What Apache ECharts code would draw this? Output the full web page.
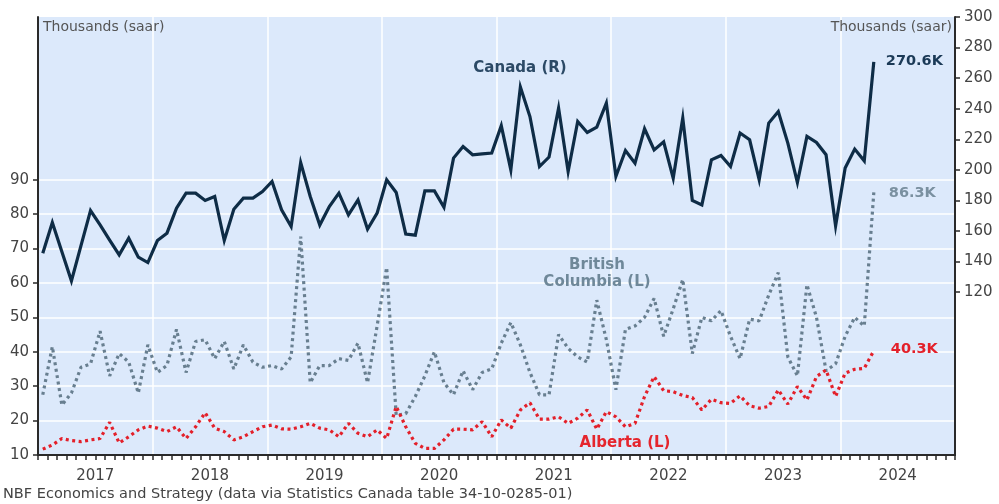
<!DOCTYPE html>
<html>
<head>
<meta charset="utf-8">
<script src="https://cdn.jsdelivr.net/npm/echarts@6/dist/echarts.min.js"></script>
<style>
  html, body { margin: 0; padding: 0; background: #ffffff; }
  #chart { width: 999px; height: 504px; }
</style>
</head>
<body>
<div id="chart"></div>
<script>
// Housing starts, thousands (saar): Canada on the right scale, provinces on the left
const yearLabels = ['2017', '2018', '2019', '2020', '2021', '2022', '2023', '2024'];

const canada = [
  145.5, 165.6, 146.5, 127.4, 150.5, 173.4, 164.0, 154.0, 144.4, 155.3, 142.9, 139.4,
  153.8, 158.6, 175.0, 184.8, 184.8, 180.0, 182.6, 153.8, 174.3, 181.5, 181.5, 185.8,
  192.4, 173.9, 163.0, 204.8, 182.6, 163.9, 176.0, 184.8, 170.6, 180.4, 161.2, 171.7,
  193.5, 185.2, 158.0, 157.3, 186.3, 186.3, 175.6, 207.7, 215.3, 209.9, 210.5, 211.0,
  228.9, 200.0, 254.2, 234.9, 202.2, 208.4, 240.4, 198.9, 231.7, 224.5, 228.0, 243.7,
  195.7, 212.7, 204.4, 226.9, 213.1, 218.4, 194.6, 233.9, 180.0, 177.1, 206.6, 209.4,
  202.2, 224.1, 219.7, 193.5, 230.6, 238.2, 217.5, 191.7, 221.9, 217.9, 209.9, 163.4,
  201.2, 213.6, 205.9, 270.6
];

const britishColumbia = [
  27.5, 41.5, 24.5, 28.0, 35.5, 36.5, 46.0, 33.0, 39.5, 37.0, 28.0, 42.0,
  34.0, 36.0, 46.5, 34.0, 43.0, 43.5, 38.0, 43.0, 35.0, 42.0, 37.0, 35.5,
  36.0, 35.0, 38.5, 73.5, 31.0, 36.0, 36.0, 38.0, 37.5, 42.5, 31.0, 47.5,
  64.5, 21.5, 22.0, 27.0, 33.0, 40.0, 31.0, 27.5, 34.5, 29.0, 34.0, 35.0,
  42.5, 48.5, 42.0, 34.0, 27.5, 27.5, 45.0, 41.0, 38.5, 37.0, 55.0, 43.5,
  29.0, 46.5, 47.5, 50.0, 55.5, 44.5, 52.5, 61.0, 39.5, 50.0, 49.0, 52.0,
  44.5, 38.0, 49.5, 49.0, 56.5, 63.0, 38.5, 33.0, 59.5, 50.0, 34.5, 36.5,
  44.5, 50.0, 47.5, 86.3
];

const alberta = [
  11.7, 12.9, 14.8, 14.2, 13.9, 14.4, 14.8, 19.5, 13.5, 15.3, 17.3, 18.4,
  17.8, 16.8, 18.2, 14.8, 18.2, 22.3, 17.8, 16.8, 14.4, 15.3, 16.8, 18.2,
  18.7, 17.6, 17.5, 18.2, 19.2, 17.8, 17.3, 15.3, 19.2, 16.3, 15.3, 17.3,
  14.8, 24.1, 18.2, 13.4, 11.9, 11.9, 14.4, 17.5, 17.5, 17.3, 19.7, 15.3,
  20.2, 17.8, 23.1, 25.2, 20.4, 20.4, 21.1, 19.2, 20.7, 23.1, 17.5, 22.6,
  21.1, 18.2, 19.2, 27.0, 32.8, 28.7, 28.4, 27.3, 26.7, 23.1, 26.2, 25.2,
  25.0, 27.2, 24.3, 23.6, 24.1, 28.9, 24.8, 29.9, 26.0, 32.8, 34.7, 27.0,
  33.8, 34.9, 35.2, 40.3
];

const leftTicks = [10, 20, 30, 40, 50, 60, 70, 80, 90];
const rightTicks = [120, 140, 160, 180, 200, 220, 240, 260, 280, 300];

// one category per month across the labelled years
const months = [];
yearLabels.forEach(function (y) {
  for (let m = 1; m <= 12; m++) months.push(y + '-' + String(m).padStart(2, '0'));
});

const FONT = 'DejaVu Sans';
const AXIS_COLOR = '#2a2a2a';
const TICK_TEXT = '#444444';

const kLabel = function (p) { return Number(p.value).toFixed(1) + 'K'; };

const dotted = [3, 3.5];

const chart = echarts.init(document.getElementById('chart'), null, { renderer: 'canvas' });

chart.setOption({
  animation: false,
  textStyle: { fontFamily: FONT },
  grid: {
    left: 38, right: 44, top: 17, bottom: 49,
    show: true, backgroundColor: '#dce9fb', borderWidth: 0
  },
  xAxis: [
    {
      type: 'category',
      data: months,
      boundaryGap: true,
      axisLine: { show: true, lineStyle: { color: AXIS_COLOR, width: 2 } },
      axisTick: { show: true, interval: 0, length: 5, lineStyle: { color: AXIS_COLOR, width: 1.5 } },
      axisLabel: { show: false },
      splitLine: { show: true, interval: 11, lineStyle: { color: '#ffffff', width: 1.5 } }
    },
    {
      type: 'category',
      data: yearLabels,
      position: 'bottom',
      boundaryGap: true,
      axisLine: { show: false },
      axisTick: { show: false },
      splitLine: { show: false },
      axisLabel: { show: true, fontSize: 15, color: TICK_TEXT, margin: 14, fontFamily: FONT }
    }
  ],
  yAxis: [
    {
      type: 'value',
      position: 'left',
      min: 10,
      max: 137.3,
      axisLine: { show: true, lineStyle: { color: AXIS_COLOR, width: 2 } },
      axisTick: { show: true, length: 5, customValues: leftTicks, lineStyle: { color: AXIS_COLOR, width: 1.5 } },
      axisLabel: { show: true, customValues: leftTicks, fontSize: 15, color: TICK_TEXT, margin: 9, fontFamily: FONT },
      splitLine: { show: true, lineStyle: { color: '#ffffff', width: 1.5 } }
    },
    {
      type: 'value',
      position: 'right',
      min: 13.5,
      max: 300,
      axisLine: { show: true, lineStyle: { color: AXIS_COLOR, width: 2 } },
      axisTick: { show: true, length: 5, customValues: rightTicks, lineStyle: { color: AXIS_COLOR, width: 1.5 } },
      axisLabel: { show: true, customValues: rightTicks, fontSize: 15, color: TICK_TEXT, margin: 9, fontFamily: FONT },
      splitLine: { show: false }
    }
  ],
  series: [
    {
      name: 'British Columbia (L)',
      type: 'line',
      xAxisIndex: 0, yAxisIndex: 0,
      data: britishColumbia,
      symbol: 'none',
      lineStyle: { color: '#687f90', width: 3.2, type: dotted, cap: 'butt' },
      endLabel: {
        show: true, formatter: kLabel, distance: 15, offset: [0, 1],
        color: '#7a90a0', fontWeight: 'bold', fontSize: 14.5, fontFamily: FONT
      },
      z: 2
    },
    {
      name: 'Alberta (L)',
      type: 'line',
      xAxisIndex: 0, yAxisIndex: 0,
      data: alberta,
      symbol: 'none',
      lineStyle: { color: '#e3202a', width: 3.2, type: dotted, cap: 'butt' },
      endLabel: {
        show: true, formatter: kLabel, distance: 17, offset: [0, -2],
        color: '#e3202a', fontWeight: 'bold', fontSize: 14.5, fontFamily: FONT
      },
      z: 2
    },
    {
      name: 'Canada (R)',
      type: 'line',
      xAxisIndex: 0, yAxisIndex: 1,
      data: canada,
      symbol: 'none',
      lineStyle: { color: '#0e2c46', width: 3.2, join: 'miter' },
      endLabel: {
        show: true, formatter: kLabel, distance: 12, offset: [0, -1],
        color: '#1b3a57', fontWeight: 'bold', fontSize: 14.5, fontFamily: FONT
      },
      z: 3
    }
  ],
  graphic: [
    {
      type: 'text', left: 43, top: 20, silent: true, z: 100,
      style: { text: 'Thousands (saar)', fill: '#555555', font: '14px "DejaVu Sans"' }
    },
    {
      type: 'text', right: 47, top: 20, silent: true, z: 100,
      style: { text: 'Thousands (saar)', fill: '#555555', font: '14px "DejaVu Sans"' }
    },
    {
      type: 'text', silent: true, z: 100,
      style: {
        text: 'Canada (R)', x: 520, y: 68, align: 'center', verticalAlign: 'middle',
        fill: '#2c4a66', font: 'bold 15px "DejaVu Sans"'
      }
    },
    {
      type: 'text', silent: true, z: 100,
      style: {
        text: 'British\nColumbia (L)', x: 597, y: 274, align: 'center', verticalAlign: 'middle',
        lineHeight: 17, fill: '#6f8899', font: 'bold 15px "DejaVu Sans"'
      }
    },
    {
      type: 'text', silent: true, z: 100,
      style: {
        text: 'Alberta (L)', x: 625, y: 443, align: 'center', verticalAlign: 'middle',
        fill: '#e5252d', font: 'bold 15px "DejaVu Sans"'
      }
    },
    {
      type: 'text', silent: true, z: 100,
      style: {
        text: 'NBF Economics and Strategy (data via Statistics Canada table 34-10-0285-01)',
        x: 3, y: 494, verticalAlign: 'middle', fill: '#444444', font: '14.5px "DejaVu Sans"'
      }
    }
  ]
});
</script>
</body>
</html>
